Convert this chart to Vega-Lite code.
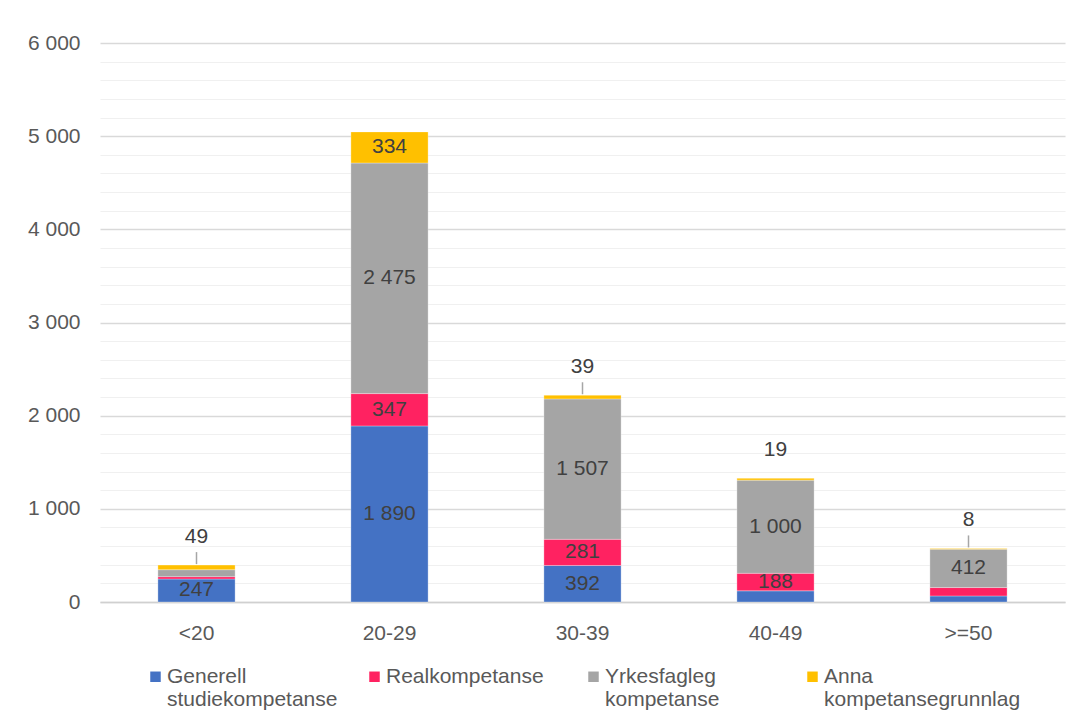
{
  "$schema": "https://vega.github.io/schema/vega-lite/v6.json",
  "width": 965,
  "height": 559,
  "autosize": {"type": "none"},
  "padding": {"left": 100, "top": 43, "right": 21, "bottom": 126},
  "background": "white",
  "config": {
    "locale": {"number": {"decimal": ",", "thousands": " ", "grouping": [3], "currency": ["", " kr"]}},
    "view": {"stroke": null},
    "font": "Liberation Sans"
  },
  "data": {
    "values": [
      {"alder": "<20", "kategori": "Generell studiekompetanse", "verdi": 247},
      {"alder": "<20", "kategori": "Realkompetanse", "verdi": 25},
      {"alder": "<20", "kategori": "Yrkesfagleg kompetanse", "verdi": 75},
      {"alder": "<20", "kategori": "Anna kompetansegrunnlag", "verdi": 49},
      {"alder": "20-29", "kategori": "Generell studiekompetanse", "verdi": 1890},
      {"alder": "20-29", "kategori": "Realkompetanse", "verdi": 347},
      {"alder": "20-29", "kategori": "Yrkesfagleg kompetanse", "verdi": 2475},
      {"alder": "20-29", "kategori": "Anna kompetansegrunnlag", "verdi": 334},
      {"alder": "30-39", "kategori": "Generell studiekompetanse", "verdi": 392},
      {"alder": "30-39", "kategori": "Realkompetanse", "verdi": 281},
      {"alder": "30-39", "kategori": "Yrkesfagleg kompetanse", "verdi": 1507},
      {"alder": "30-39", "kategori": "Anna kompetansegrunnlag", "verdi": 39},
      {"alder": "40-49", "kategori": "Generell studiekompetanse", "verdi": 120},
      {"alder": "40-49", "kategori": "Realkompetanse", "verdi": 188},
      {"alder": "40-49", "kategori": "Yrkesfagleg kompetanse", "verdi": 1000},
      {"alder": "40-49", "kategori": "Anna kompetansegrunnlag", "verdi": 19},
      {"alder": ">=50", "kategori": "Generell studiekompetanse", "verdi": 65},
      {"alder": ">=50", "kategori": "Realkompetanse", "verdi": 90},
      {"alder": ">=50", "kategori": "Yrkesfagleg kompetanse", "verdi": 412},
      {"alder": ">=50", "kategori": "Anna kompetansegrunnlag", "verdi": 8}
    ]
  },
  "transform": [
    {"calculate": "indexof(['Generell studiekompetanse','Realkompetanse','Yrkesfagleg kompetanse','Anna kompetansegrunnlag'], datum.kategori)", "as": "rang"},
    {"stack": "verdi", "groupby": ["alder"], "sort": [{"field": "rang", "order": "ascending"}], "as": ["y0", "y1"]},
    {"calculate": "(datum.y0 + datum.y1) / 2", "as": "ymid"}
  ],
  "encoding": {
    "x": {
      "field": "alder", "type": "nominal",
      "sort": ["<20", "20-29", "30-39", "40-49", ">=50"],
      "scale": {"paddingInner": 0.6, "paddingOuter": 0.3},
      "axis": {"title": null, "labelAngle": 0, "ticks": false, "domainColor": "#d0d0d0", "domainWidth": 1.5, "labelFontSize": 21, "labelColor": "#595959", "labelPadding": 20, "grid": false}
    }
  },
  "resolve": {"axis": {"y": "independent"}},
  "layer": [
    {
      "mark": {"type": "bar", "stroke": "white", "strokeWidth": 0.5, "strokeOpacity": 0.6},
      "encoding": {
        "y": {
          "field": "y0", "type": "quantitative",
          "scale": {"domain": [0, 6000], "nice": false},
          "axis": {"orient": "left", "title": null, "labels": false, "ticks": false, "domain": false, "grid": true, "gridColor": "#f0f0f0", "gridWidth": 1.2,
            "values": [200, 400, 600, 800, 1200, 1400, 1600, 1800, 2200, 2400, 2600, 2800, 3200, 3400, 3600, 3800, 4200, 4400, 4600, 4800, 5200, 5400, 5600, 5800]}
        },
        "y2": {"field": "y1"},
        "color": {
          "field": "kategori", "type": "nominal",
          "scale": {
            "domain": ["Generell studiekompetanse", "Realkompetanse", "Yrkesfagleg kompetanse", "Anna kompetansegrunnlag"],
            "range": ["#4472C4", "#FF2261", "#A5A5A5", "#FFC000"]
          },
          "legend": {
            "title": null, "orient": "none", "legendX": 45, "legendY": 612,
            "direction": "horizontal", "columns": 4, "gridAlign": "all", "columnPadding": -15,
            "symbolType": "M-1,1.1H1V3.1H-1Z", "symbolSize": 110, "symbolStrokeWidth": 0,
            "labelFontSize": 21, "labelColor": "#595959", "labelOffset": 1, "labelLimit": 300,
            "labelBaseline": "top",
            "labelExpr": "datum.label == 'Realkompetanse' ? ['Realkompetanse', ' '] : split(datum.label, ' ')"
          }
        }
      }
    },
    {
      "transform": [{"filter": "datum.verdi >= 150"}],
      "mark": {"type": "text", "fontSize": 21, "color": "#404040"},
      "encoding": {
        "y": {
          "field": "ymid", "type": "quantitative",
          "axis": {"orient": "left", "title": null, "ticks": false, "domain": false, "grid": true, "gridColor": "#d9d9d9", "gridWidth": 1.5,
            "values": [0, 1000, 2000, 3000, 4000, 5000, 6000], "format": ",d", "labelFontSize": 21, "labelColor": "#595959", "labelPadding": 20}
        },
        "text": {"field": "verdi", "type": "quantitative", "format": ",d"}
      }
    },
    {
      "transform": [{"filter": "datum.kategori == 'Anna kompetansegrunnlag' && datum.verdi < 100 && datum.alder != '40-49'"}],
      "mark": {"type": "rule", "color": "#a6a6a6", "strokeWidth": 1.5, "yOffset": -1, "y2Offset": -13},
      "encoding": {
        "y": {"field": "y1", "type": "quantitative", "axis": null},
        "y2": {"field": "y1"}
      }
    },
    {
      "transform": [{"filter": "datum.kategori == 'Anna kompetansegrunnlag' && datum.verdi < 100"}],
      "mark": {"type": "text", "fontSize": 21, "color": "#404040", "dy": -28},
      "encoding": {
        "y": {"field": "y1", "type": "quantitative", "axis": null},
        "text": {"field": "verdi", "type": "quantitative", "format": ",d"}
      }
    }
  ]
}
